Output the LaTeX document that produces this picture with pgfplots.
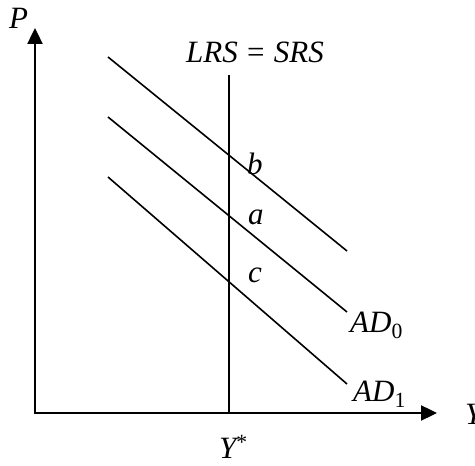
\documentclass[border=0pt]{standalone}
\usepackage{pgfplots}
\pgfplotsset{compat=1.18}
\usepackage{fontspec}
\setmainfont{Liberation Serif}
\usetikzlibrary{arrows.meta}
\begin{document}
\begin{tikzpicture}
\fontsize{31}{36}\selectfont
\begin{axis}[
  at={(0,0)}, anchor=south west,
  scale only axis, width=475pt, height=466pt,
  xmin=0, xmax=475, ymin=0, ymax=466,
  hide axis, clip=false,
]
% axes (pixel coords, y flipped)
\addplot[black, line width=2.4pt, -{Triangle[length=16pt,width=15pt]}] coordinates {(35,52) (35,438)};
\addplot[black, line width=2.4pt, -{Triangle[length=16pt,width=15pt]}] coordinates {(34,53) (437,53)};
% LRS = SRS vertical line
\addplot[black, line width=1.6pt] coordinates {(229,391) (229,53)};
% demand curves
\addplot[black, line width=1.6pt] coordinates {(108,409) (347,215)};
\addplot[black, line width=1.6pt] coordinates {(108,349) (347,154)};
\addplot[black, line width=1.6pt] coordinates {(108,289) (347,82)};
% labels
\node[anchor=base west, inner sep=0pt] at (axis cs:9,437) {\itshape P};
\node[anchor=base west, inner sep=0pt] at (axis cs:186,403) {\itshape LRS\upshape\hspace{0.3em}=\hspace{0.3em}\itshape SRS};
\node[anchor=base west, inner sep=0pt] at (axis cs:247,291) {\itshape b};
\node[anchor=base west, inner sep=0pt] at (axis cs:248,241) {\itshape a};
\node[anchor=base west, inner sep=0pt] at (axis cs:248,183) {\itshape c};
\node[anchor=base west, inner sep=0pt] at (axis cs:350,133) {\itshape AD\upshape\textsubscript{0}};
\node[anchor=base west, inner sep=0pt] at (axis cs:353,64) {\itshape AD\upshape\textsubscript{1}};
\node[anchor=base west, inner sep=0pt] at (axis cs:465,41) {\itshape Y};
\node[anchor=base west, inner sep=0pt] at (axis cs:219,7) {\itshape Y\upshape\textsuperscript{*}};
\end{axis}
\pgfresetboundingbox
\useasboundingbox (0,0) rectangle (475pt,466pt);
\end{tikzpicture}
\end{document}
